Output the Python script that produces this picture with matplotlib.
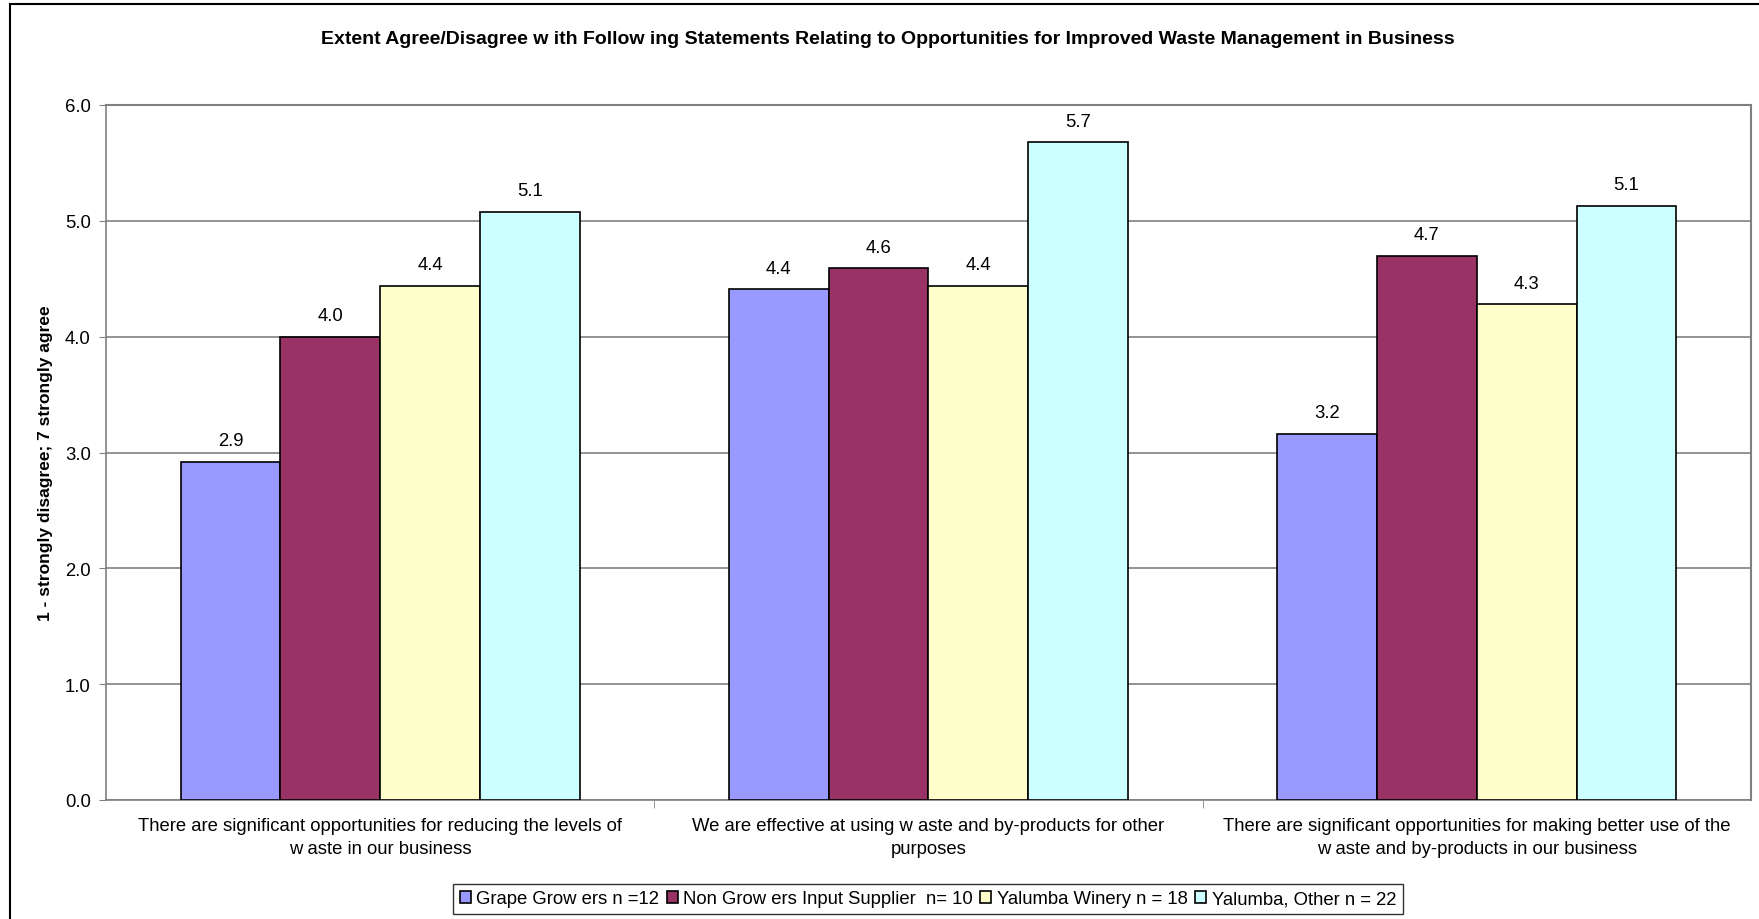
import numpy as np
import matplotlib.pyplot as plt
from matplotlib.patches import Rectangle

plt.rcParams['font.family'] = ['Liberation Sans', 'DejaVu Sans']

statements = [
    'There are significant opportunities for reducing the levels of\nw aste in our business',
    'We are effective at using w aste and by-products for other\npurposes',
    'There are significant opportunities for making better use of the\nw aste and by-products in our business',
]
groups = ['Grape Grow ers n =12', 'Non Grow ers Input Supplier  n= 10',
          'Yalumba Winery n = 18', 'Yalumba, Other n = 22']
grape_growers = [2.92, 4.41, 3.16]
non_growers = [4.00, 4.59, 4.70]
winery = [4.44, 4.44, 4.28]
other = [5.08, 5.68, 5.13]
colors = ['#9999FF', '#993366', '#FFFFCC', '#CCFFFF']

series = [grape_growers, non_growers, winery, other]
fs = 13.3

fig = plt.figure(figsize=(17.59, 9.2), dpi=100)
# chart area border
fig.patches.append(Rectangle((10 / 1759, -0.1), 1.2, 1.1 - 5 / 920,
                             transform=fig.transFigure, fill=False,
                             edgecolor='black', linewidth=1.5))

ax = fig.add_axes([106 / 1759, 1 - 801 / 920, 1645 / 1759, 695 / 920])

x = np.arange(len(statements))
width = 0.182
for i, (vals, col) in enumerate(zip(series, colors)):
    pos = x + (i - 1.5) * width
    bars = ax.bar(pos, vals, width, color=col, edgecolor='black',
                  linewidth=1.2, label=groups[i], zorder=3)
    for b, v in zip(bars, vals):
        ax.annotate('%.1f' % v, (b.get_x() + b.get_width() / 2, v),
                    xytext=(0, 9), textcoords='offset points',
                    ha='center', va='bottom', fontsize=fs)

ax.set_xlim(-0.5, 2.5)
ax.set_ylim(0, 6)
ax.set_yticks(np.arange(0, 6.1, 1.0))
ax.set_yticklabels(['%.1f' % t for t in np.arange(0, 6.1, 1.0)], fontsize=fs)
ax.yaxis.grid(True, color='#808080', linewidth=1.2, zorder=0)

ax.set_xticks(x)
ax.set_xticklabels(statements, fontsize=fs, linespacing=1.5)
ax.tick_params(axis='x', length=0, pad=12)
ax.set_xticks([0.5, 1.5], minor=True)
ax.tick_params(axis='x', which='minor', length=6, color='#808080')
ax.tick_params(axis='y', length=5, color='#808080', pad=6)

for side in ['top', 'right']:
    ax.spines[side].set_color('#808080')
    ax.spines[side].set_linewidth(1.5)
for side in ['left', 'bottom']:
    ax.spines[side].set_color('#808080')
    ax.spines[side].set_linewidth(1.2)

# y axis title
fig.text(46 / 1759, 1 - 463 / 920, '1 - strongly disagree; 7 strongly agree',
         rotation=90, ha='center', va='center', fontsize=12.5, fontweight='bold')

fig.text(0.505, 1 - 40 / 920,
         'Extent Agree/Disagree w ith Follow ing Statements Relating to Opportunities for Improved Waste Management in Business',
         ha='center', va='center', fontsize=14, fontweight='bold')

leg = ax.legend(loc='center', bbox_to_anchor=(928 / 1759, 1 - 900 / 920),
                bbox_transform=fig.transFigure, ncol=4, fontsize=fs,
                frameon=True, fancybox=False, handlelength=0.6,
                handleheight=0.6, handletextpad=0.3, columnspacing=0.4,
                borderpad=0.35)
leg.get_frame().set_edgecolor('black')
leg.get_frame().set_linewidth(1.0)

fig.savefig('out.png', dpi=100)
